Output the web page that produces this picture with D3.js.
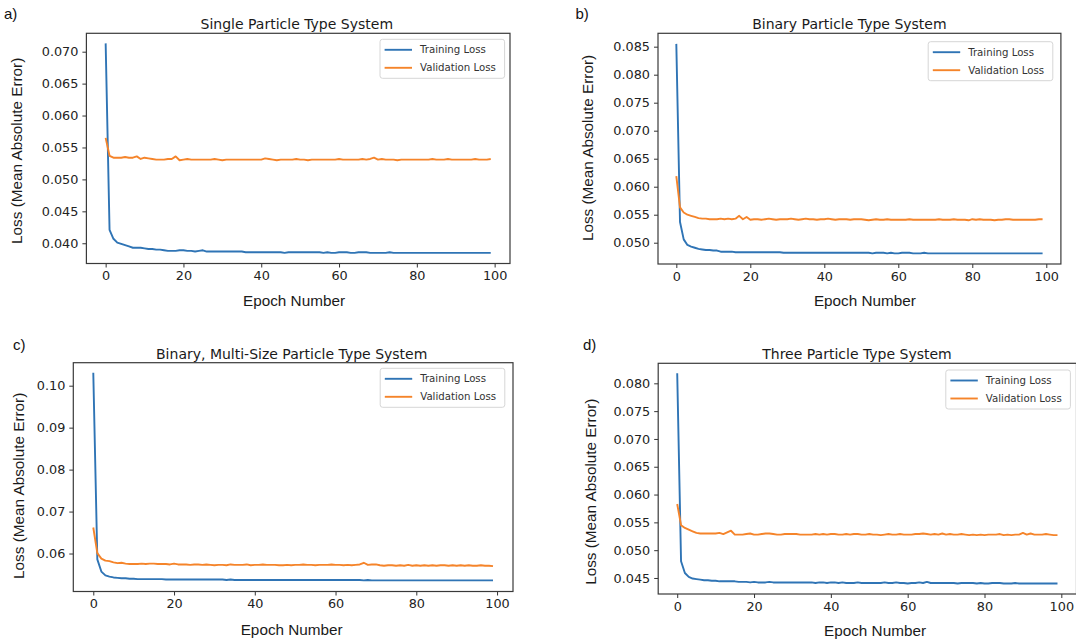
<!DOCTYPE html>
<html>
<head>
<meta charset="utf-8">
<script src="https://cdn.jsdelivr.net/npm/d3@7"></script>
<style>
  body { margin: 0; background: #fff; }
  svg { display: block; }
</style>
</head>
<body>
<div id="chart"></div>
<script>
// epoch index for every series
var epochs = d3.range(100);

var titles = ["Single Particle Type System", "Binary Particle Type System",
              "Binary, Multi-Size Particle Type System", "Three Particle Type System"];
var panelLetters = ["a)", "b)", "c)", "d)"];
var seriesNames = ["Training Loss", "Validation Loss"];
var xTicks = [0, 20, 40, 60, 80, 100];

// a) single particle type
var trainA = [0.0713,0.0421,0.0407,0.0401,0.0399,0.0397,0.0395,0.0393,0.0393,0.0393,
  0.0392,0.0391,0.0391,0.0390,0.0390,0.0389,0.0388,0.0388,0.0388,0.0389,
  0.0389,0.0388,0.0388,0.0387,0.0388,0.0389,0.0387,0.0387,0.0387,0.0387,
  0.0387,0.0387,0.0387,0.0387,0.0387,0.0387,0.0386,0.0386,0.0386,0.0386,
  0.0386,0.0386,0.0386,0.0386,0.0386,0.0386,0.0385,0.0386,0.0386,0.0386,
  0.0386,0.0386,0.0386,0.0386,0.0386,0.0386,0.0385,0.0386,0.0385,0.0385,
  0.0386,0.0386,0.0386,0.0385,0.0385,0.0386,0.0386,0.0386,0.0385,0.0385,
  0.0385,0.0385,0.0385,0.0386,0.0385,0.0385,0.0385,0.0385,0.0385,0.0385,
  0.0385,0.0385,0.0385,0.0385,0.0385,0.0385,0.0385,0.0385,0.0385,0.0385,
  0.0385,0.0385,0.0385,0.0385,0.0385,0.0385,0.0385,0.0385,0.0385,0.0385];
var valA = [0.0565,0.0537,0.0534,0.0534,0.0534,0.0535,0.0534,0.0534,0.0536,0.0532,
  0.0534,0.0533,0.0532,0.0531,0.0531,0.0531,0.0532,0.0532,0.0536,0.0530,
  0.0531,0.0532,0.0531,0.0531,0.0531,0.0531,0.0531,0.0531,0.0532,0.0531,
  0.0530,0.0531,0.0531,0.0531,0.0531,0.0531,0.0531,0.0531,0.0531,0.0531,
  0.0531,0.0533,0.0532,0.0531,0.0530,0.0531,0.0531,0.0531,0.0531,0.0532,
  0.0531,0.0531,0.0530,0.0531,0.0531,0.0531,0.0531,0.0531,0.0531,0.0531,
  0.0532,0.0531,0.0531,0.0531,0.0531,0.0531,0.0532,0.0531,0.0532,0.0534,
  0.0531,0.0532,0.0531,0.0531,0.0531,0.0530,0.0531,0.0531,0.0531,0.0531,
  0.0531,0.0531,0.0531,0.0531,0.0532,0.0531,0.0531,0.0531,0.0532,0.0531,
  0.0531,0.0531,0.0531,0.0531,0.0531,0.0532,0.0531,0.0531,0.0531,0.0532];
var yTicksA = [0.040, 0.045, 0.050, 0.055, 0.060, 0.065, 0.070];

// b) binary
var trainB = [0.0855,0.0537,0.0506,0.0496,0.0493,0.0491,0.0489,0.0488,0.0487,0.0487,
  0.0486,0.0486,0.0484,0.0484,0.0484,0.0484,0.0483,0.0483,0.0483,0.0483,
  0.0483,0.0483,0.0483,0.0483,0.0483,0.0483,0.0483,0.0483,0.0483,0.0482,
  0.0482,0.0482,0.0482,0.0482,0.0482,0.0482,0.0482,0.0482,0.0482,0.0482,
  0.0482,0.0482,0.0482,0.0482,0.0482,0.0482,0.0482,0.0482,0.0482,0.0482,
  0.0482,0.0482,0.0482,0.0481,0.0482,0.0482,0.0482,0.0481,0.0482,0.0481,
  0.0481,0.0482,0.0482,0.0482,0.0481,0.0481,0.0481,0.0482,0.0481,0.0481,
  0.0481,0.0481,0.0481,0.0481,0.0481,0.0481,0.0481,0.0481,0.0481,0.0481,
  0.0481,0.0481,0.0481,0.0481,0.0481,0.0481,0.0481,0.0481,0.0481,0.0481,
  0.0481,0.0481,0.0481,0.0481,0.0481,0.0481,0.0481,0.0481,0.0481,0.0481];
var valB = [0.0619,0.0563,0.0554,0.0550,0.0548,0.0546,0.0544,0.0543,0.0543,0.0542,
  0.0542,0.0542,0.0543,0.0542,0.0543,0.0542,0.0543,0.0548,0.0542,0.0546,
  0.0541,0.0542,0.0542,0.0541,0.0542,0.0543,0.0542,0.0541,0.0542,0.0542,
  0.0542,0.0543,0.0542,0.0541,0.0542,0.0543,0.0542,0.0542,0.0541,0.0542,
  0.0542,0.0543,0.0542,0.0541,0.0542,0.0542,0.0542,0.0541,0.0542,0.0542,
  0.0542,0.0541,0.0540,0.0541,0.0542,0.0541,0.0541,0.0542,0.0541,0.0541,
  0.0541,0.0541,0.0541,0.0542,0.0541,0.0541,0.0541,0.0541,0.0541,0.0541,
  0.0541,0.0542,0.0541,0.0541,0.0541,0.0542,0.0541,0.0541,0.0541,0.0540,
  0.0542,0.0541,0.0542,0.0541,0.0541,0.0541,0.0540,0.0541,0.0541,0.0542,
  0.0542,0.0541,0.0541,0.0541,0.0541,0.0541,0.0541,0.0541,0.0542,0.0542];
var yTicksB = [0.050, 0.055, 0.060, 0.065, 0.070, 0.075, 0.080, 0.085];

// c) binary, multi-size
var trainC = [0.1031,0.0586,0.0557,0.0548,0.0545,0.0543,0.0542,0.0541,0.0541,0.0540,
  0.0540,0.0539,0.0539,0.0539,0.0539,0.0539,0.0539,0.0539,0.0538,0.0538,
  0.0538,0.0538,0.0538,0.0538,0.0538,0.0538,0.0538,0.0538,0.0538,0.0538,
  0.0538,0.0538,0.0538,0.0537,0.0538,0.0537,0.0537,0.0537,0.0537,0.0537,
  0.0537,0.0537,0.0537,0.0537,0.0537,0.0537,0.0537,0.0537,0.0537,0.0537,
  0.0537,0.0537,0.0537,0.0537,0.0537,0.0537,0.0537,0.0537,0.0537,0.0537,
  0.0537,0.0537,0.0537,0.0537,0.0537,0.0537,0.0537,0.0536,0.0537,0.0536,
  0.0536,0.0536,0.0536,0.0536,0.0536,0.0536,0.0536,0.0536,0.0536,0.0536,
  0.0536,0.0536,0.0536,0.0536,0.0536,0.0536,0.0536,0.0536,0.0536,0.0536,
  0.0536,0.0536,0.0536,0.0536,0.0536,0.0536,0.0536,0.0536,0.0536,0.0536];
var valC = [0.0662,0.0601,0.0588,0.0583,0.0582,0.0579,0.0577,0.0578,0.0576,0.0575,
  0.0575,0.0575,0.0576,0.0575,0.0576,0.0576,0.0575,0.0575,0.0575,0.0574,
  0.0576,0.0574,0.0574,0.0574,0.0573,0.0574,0.0574,0.0573,0.0574,0.0573,
  0.0572,0.0573,0.0573,0.0572,0.0574,0.0573,0.0573,0.0573,0.0574,0.0572,
  0.0573,0.0573,0.0574,0.0573,0.0573,0.0573,0.0572,0.0572,0.0573,0.0572,
  0.0573,0.0573,0.0574,0.0573,0.0573,0.0572,0.0573,0.0573,0.0573,0.0574,
  0.0573,0.0573,0.0572,0.0573,0.0572,0.0573,0.0574,0.0578,0.0573,0.0574,
  0.0574,0.0572,0.0571,0.0572,0.0572,0.0571,0.0572,0.0571,0.0573,0.0571,
  0.0572,0.0571,0.0572,0.0571,0.0572,0.0571,0.0572,0.0572,0.0571,0.0572,
  0.0571,0.0572,0.0571,0.0572,0.0571,0.0571,0.0572,0.0571,0.0571,0.0570];
var yTicksC = [0.06, 0.07, 0.08, 0.09, 0.10];

// d) three particle types
var trainD = [0.0818,0.0480,0.0459,0.0452,0.0449,0.0448,0.0447,0.0446,0.0446,0.0445,
  0.0445,0.0444,0.0444,0.0444,0.0444,0.0444,0.0443,0.0443,0.0443,0.0442,
  0.0443,0.0442,0.0442,0.0442,0.0443,0.0442,0.0442,0.0442,0.0442,0.0442,
  0.0442,0.0442,0.0442,0.0442,0.0442,0.0442,0.0441,0.0442,0.0442,0.0441,
  0.0442,0.0442,0.0441,0.0442,0.0441,0.0441,0.0441,0.0442,0.0441,0.0441,
  0.0441,0.0441,0.0441,0.0441,0.0442,0.0441,0.0441,0.0442,0.0441,0.0441,
  0.0440,0.0441,0.0441,0.0442,0.0441,0.0443,0.0441,0.0441,0.0441,0.0441,
  0.0441,0.0441,0.0441,0.0440,0.0441,0.0441,0.0441,0.0441,0.0440,0.0441,
  0.0440,0.0440,0.0441,0.0441,0.0441,0.0440,0.0440,0.0440,0.0441,0.0440,
  0.0440,0.0440,0.0440,0.0440,0.0440,0.0440,0.0440,0.0440,0.0440,0.0440];
var valD = [0.0583,0.0545,0.0540,0.0537,0.0534,0.0531,0.0530,0.0530,0.0530,0.0530,
  0.0530,0.0531,0.0529,0.0532,0.0535,0.0528,0.0528,0.0528,0.0529,0.0530,
  0.0528,0.0528,0.0529,0.0530,0.0530,0.0529,0.0528,0.0528,0.0529,0.0529,
  0.0529,0.0529,0.0528,0.0528,0.0528,0.0528,0.0529,0.0528,0.0529,0.0528,
  0.0529,0.0529,0.0528,0.0528,0.0529,0.0528,0.0529,0.0529,0.0528,0.0528,
  0.0529,0.0528,0.0528,0.0527,0.0528,0.0529,0.0528,0.0528,0.0529,0.0528,
  0.0528,0.0528,0.0529,0.0529,0.0530,0.0529,0.0528,0.0529,0.0528,0.0530,
  0.0528,0.0529,0.0528,0.0528,0.0529,0.0528,0.0527,0.0528,0.0527,0.0528,
  0.0527,0.0528,0.0528,0.0528,0.0529,0.0527,0.0528,0.0527,0.0528,0.0528,
  0.0531,0.0528,0.0530,0.0528,0.0528,0.0528,0.0529,0.0528,0.0527,0.0527];
var yTicksD = [0.045, 0.050, 0.055, 0.060, 0.065, 0.070, 0.075, 0.080];

var svgWidth = 1076;
var svgHeight = 640;
var colors = ["#2f74b5", "#f5842a"];

// layout of each panel (frame box, y-range, label spots)
var panels = [
  { train: trainA, val: valA, ticks: yTicksA, fmt: ".3f", yDom: [0.03683, 0.07288],
    box: [86.4, 33.3, 510, 263.5], title: [296.8, 28.5], letter: [4, 19],
    yLab: [16.5, 150.8], xLab: [294, 305.5], legend: [380, 39.3] },
  { train: trainB, val: valB, ticks: yTicksB, fmt: ".3f", yDom: [0.04620, 0.08739],
    box: [658, 33.3, 1060.9, 264], title: [849.4, 28.5], letter: [575.5, 19],
    yLab: [587.7, 148], xLab: [864.9, 305.5], legend: [928.2, 41.7] },
  { train: trainC, val: valC, ticks: yTicksC, fmt: ".2f", yDom: [0.05095, 0.10548],
    box: [73.3, 362.7, 513, 591.5], title: [291.7, 358.5], letter: [13, 349.5],
    yLab: [19, 485.8], xLab: [291.7, 634.5], legend: [380.2, 368.3] },
  { train: trainD, val: valD, ticks: yTicksD, fmt: ".3f", yDom: [0.04212, 0.08360],
    box: [658.2, 363.3, 1076.5, 594], title: [857, 358.5], letter: [583, 349.5],
    yLab: [591, 491.7], xLab: [875, 635.5], legend: [945.8, 370] }
];

var svg = d3.select("#chart")
  .append("svg")
  .attr("width", svgWidth)
  .attr("height", svgHeight);

panels.forEach(function (p, i) {
  var left = p.box[0], top = p.box[1], right = p.box[2], bottom = p.box[3];
  var g = svg.append("g");

  var xScale = d3.scaleLinear().domain([-4.95, 103.95]).range([left, right]);
  var yScale = d3.scaleLinear().domain(p.yDom).range([bottom, top]);

  var xAxis = g.append("g")
    .attr("transform", `translate(0, ${bottom})`)
    .call(d3.axisBottom(xScale).tickValues(xTicks).tickSize(4).tickPadding(3.5));
  var yAxis = g.append("g")
    .attr("transform", `translate(${left}, 0)`)
    .call(d3.axisLeft(yScale).tickValues(p.ticks).tickFormat(d3.format(p.fmt)).tickSize(4).tickPadding(4));

  [xAxis, yAxis].forEach(function (ax) {
    ax.select(".domain").remove();
    ax.selectAll("line").attr("stroke", "#333");
    ax.selectAll("text")
      .attr("fill", "#222")
      .style("font-family", "DejaVu Sans")
      .style("font-size", "12.8px");
  });

  var line = d3.line()
    .x(function (d, k) { return xScale(epochs[k]); })
    .y(function (d) { return yScale(d); });

  [p.train, p.val].forEach(function (series, s) {
    g.append("path")
      .datum(series)
      .attr("fill", "none")
      .attr("stroke", colors[s])
      .attr("stroke-width", 1.9)
      .attr("stroke-linejoin", "round")
      .attr("d", line);
  });

  g.append("rect")
    .attr("x", left).attr("y", top)
    .attr("width", right - left).attr("height", bottom - top)
    .attr("fill", "none")
    .attr("stroke", "#3a3a3a")
    .attr("stroke-width", 1.2);

  g.append("text")
    .attr("x", p.title[0]).attr("y", p.title[1])
    .attr("text-anchor", "middle")
    .style("font-family", "DejaVu Sans")
    .style("font-size", "14px")
    .attr("fill", "#1a1a1a")
    .text(titles[i]);

  g.append("text")
    .attr("x", p.letter[0]).attr("y", p.letter[1])
    .style("font-family", "Liberation Sans")
    .style("font-size", "15px")
    .attr("fill", "#111")
    .text(panelLetters[i]);

  g.append("text")
    .attr("transform", `translate(${p.yLab[0] + 5}, ${p.yLab[1]}) rotate(-90)`)
    .attr("text-anchor", "middle")
    .style("font-family", "Liberation Sans")
    .style("font-size", "15.3px")
    .attr("fill", "#1a1a1a")
    .text("Loss (Mean Absolute Error)");

  g.append("text")
    .attr("x", p.xLab[0]).attr("y", p.xLab[1])
    .attr("text-anchor", "middle")
    .style("font-family", "Liberation Sans")
    .style("font-size", "15.3px")
    .attr("fill", "#1a1a1a")
    .text("Epoch Number");

  // legend
  var lg = g.append("g").attr("transform", `translate(${p.legend[0]}, ${p.legend[1]})`);
  lg.append("rect")
    .attr("width", 124.6).attr("height", 39)
    .attr("rx", 2.5)
    .attr("fill", "#fff")
    .attr("fill-opacity", 0.85)
    .attr("stroke", "#d6d6d6");
  seriesNames.forEach(function (name, s) {
    var yy = 10.5 + s * 18;
    lg.append("line")
      .attr("x1", 4.6).attr("x2", 32)
      .attr("y1", yy).attr("y2", yy)
      .attr("stroke", colors[s])
      .attr("stroke-width", 1.9);
    lg.append("text")
      .attr("x", 40).attr("y", yy + 3.6)
      .style("font-family", "DejaVu Sans")
      .style("font-size", "10.2px")
      .attr("fill", "#333")
      .text(name);
  });
});
</script>
</body>
</html>
